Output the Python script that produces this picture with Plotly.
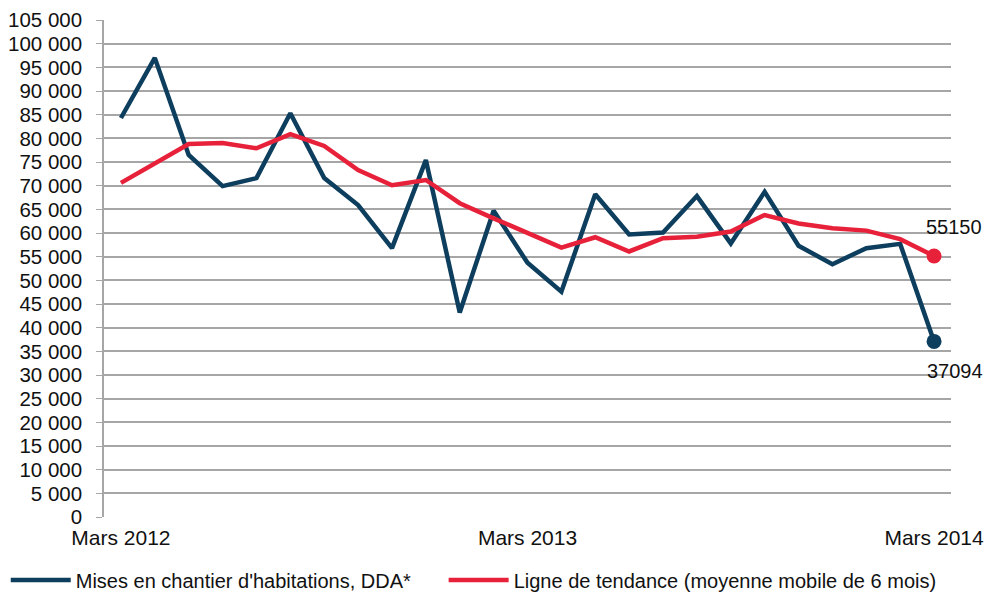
import plotly.graph_objects as go

months = [f"m{i}" for i in range(25)]
tick_labels = ["Mars 2012", "Mars 2013", "Mars 2014"]
tick_idx = [0, 12, 24]

mises = [84300, 97000, 76500, 69900, 71600, 85300, 71600, 65900, 56800, 75400,
         43200, 64700, 53700, 47600, 68200, 59700, 60100, 67800, 57800, 68700,
         57300, 53400, 56800, 57700, 37094]
tendance = [70600, 74700, 78800, 79000, 77900, 80900, 78400, 73300, 70100, 71200,
            66300, 63100, 60100, 56900, 59100, 56100, 58900, 59200, 60300, 63800,
            62000, 61000, 60500, 58700, 55150]

BLUE = "#0D3E5E"
RED = "#E8213A"
FONT = "Liberation Sans, Arial, sans-serif"
TXT = "#111111"
PAD = "\u00a0" * 5

fig = go.Figure()
fig.add_trace(go.Scatter(
    x=months, y=mises, name="Mises en chantier d'habitations, DDA*" + PAD,
    mode="lines", line=dict(color=BLUE, width=4.5), cliponaxis=False,
))
fig.add_trace(go.Scatter(
    x=months, y=tendance, name="Ligne de tendance (moyenne mobile de 6 mois)",
    mode="lines", line=dict(color=RED, width=4.5), cliponaxis=False,
))
fig.add_trace(go.Scatter(
    x=[months[-1]], y=[mises[-1]], mode="markers", showlegend=False,
    marker=dict(size=15, color=BLUE, opacity=1), cliponaxis=False,
))
fig.add_trace(go.Scatter(
    x=[months[-1]], y=[tendance[-1]], mode="markers", showlegend=False,
    marker=dict(size=15, color=RED, opacity=1), cliponaxis=False,
))

fig.add_annotation(x=months[-1], y=mises[-1], text=str(mises[-1]), showarrow=False,
                   xshift=21, yshift=-30, font=dict(size=20, color=TXT, family=FONT))
fig.add_annotation(x=months[-1], y=tendance[-1], text=str(tendance[-1]), showarrow=False,
                   xshift=20, yshift=29, font=dict(size=20, color=TXT, family=FONT))

fig.update_layout(
    width=987, height=594,
    margin=dict(l=104, r=36, t=20, b=77, autoexpand=False),
    paper_bgcolor="white", plot_bgcolor="white",
    separators=", ",
    font=dict(family=FONT, size=20, color=TXT),
    showlegend=True,
    legend=dict(orientation="h", x=-0.116, xanchor="left", y=-0.127, yanchor="middle",
                font=dict(size=20, family=FONT, color=TXT), traceorder="normal",
                itemwidth=60, tracegroupgap=0),
    xaxis=dict(
        type="category", categoryorder="array", categoryarray=months,
        range=[-0.5, len(months) - 0.5], tickmode="array",
        tickvals=[months[i] for i in tick_idx], ticktext=tick_labels,
        showgrid=False, showline=False, ticks="", zeroline=False,
        tickfont=dict(size=21, family=FONT, color=TXT), automargin=False,
        ticklabelstandoff=6,
    ),
    yaxis=dict(
        range=[0, 105000], dtick=5000, tickformat=",d",
        showgrid=True, gridcolor="#A6A6A6", gridwidth=1.5,
        showline=True, linecolor="#A6A6A6", linewidth=1.5,
        ticks="outside", ticklen=6, tickcolor="#A6A6A6",
        zeroline=False, tickfont=dict(size=20.5, family=FONT, color=TXT),
        automargin=False, ticklabelstandoff=10,
    ),
)

fig.write_html("out.html", config={"displayModeBar": False},
               post_script="document.body.style.margin='0';")
